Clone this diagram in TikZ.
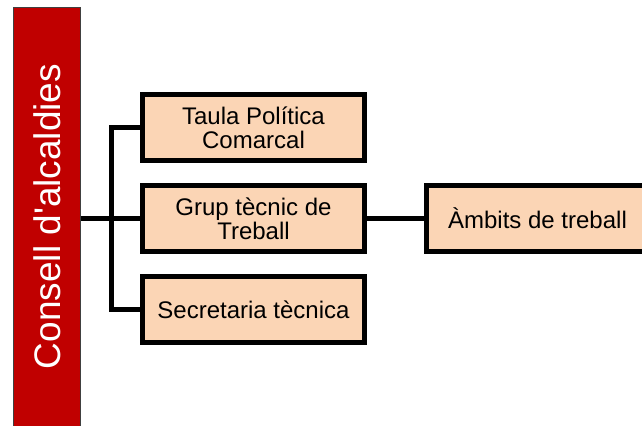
\documentclass[tikz,border=0pt]{standalone}
\usepackage{fontspec}
\setmainfont{Liberation Sans}
\usetikzlibrary{positioning}
\definecolor{barred}{RGB}{192,0,0}
\definecolor{peach}{RGB}{251,213,181}

\begin{document}
\begin{tikzpicture}[
  x=0.5pt, y=-0.5pt,
  node distance=12.5pt and 31pt,
  council/.style={rectangle, draw=black!75, line width=0.7pt, fill=barred, outer sep=0pt,
                  minimum width=33.5pt, minimum height=221pt, text=white,
                  font=\fontsize{18.5}{18.5}\selectfont},
  unit/.style={rectangle, draw, line width=2.5pt, fill=peach, outer sep=0pt,
               minimum width=111pt, minimum height=33pt, align=center,
               font=\fontsize{12}{12}\selectfont},
  link/.style={line width=2.5pt},
]
  \useasboundingbox (0,0) rectangle (642,426);

  % Left: council bar (runs off the bottom edge)
  \node[council] (consell) at (47,228.5)
    {\rotatebox{90}{\hspace{12pt}Consell d\textquotesingle alcaldies}};

  % Middle column
  \node[unit] (grup) at (253.5,218.5) {Grup tècnic de\\Treball};
  \node[unit, above=of grup] (taula) {Taula Política\\Comarcal};
  \node[unit, below=of grup] (secret) {Secretaria tècnica};

  % Right
  \node[unit, right=of grup] (ambits) {Àmbits de treball};

  % Lines
  \draw[link] (consell.east |- grup.west) -- (grup.west);
  \draw[link] (taula.west) -- ++(-15.5pt,0) |- (secret.west);
  \draw[link] (grup.east) -- (ambits.west);
\end{tikzpicture}
\end{document}
